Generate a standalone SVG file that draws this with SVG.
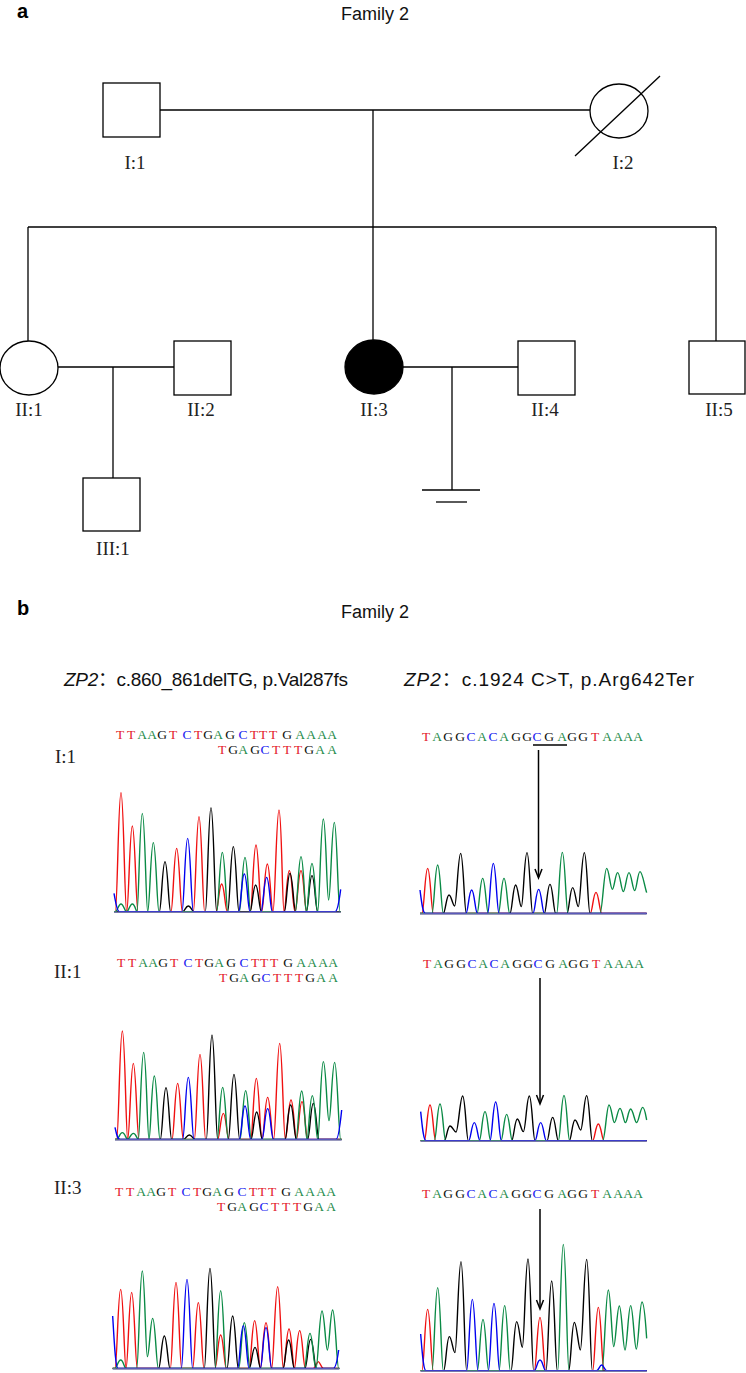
<svg xmlns="http://www.w3.org/2000/svg" xmlns:xlink="http://www.w3.org/1999/xlink" width="746" height="1373" viewBox="0 0 746 1373">
<style>
.ln{stroke:#000;stroke-width:1.3;fill:none}
.nd{fill:#fff;stroke:#000;stroke-width:1.3}
.aff{fill:#000;stroke:#000;stroke-width:1.3}
.lbl{font-family:"Liberation Serif",serif;font-size:19px;text-anchor:middle;fill:#222}
.rl{font-family:"Liberation Serif",serif;font-size:19px;fill:#222}
.hd{font-family:"Liberation Sans",sans-serif;font-size:18px;text-anchor:middle;fill:#111}
.pl{font-family:"Liberation Sans",sans-serif;font-size:20px;font-weight:bold;fill:#000}
.mu{font-family:"Liberation Sans","Noto Sans CJK SC",sans-serif;font-size:19px;fill:#111}
.sq{font-family:"Liberation Serif",serif;font-size:13.5px;text-anchor:middle}
.cR{fill:#e3202a}.cG{fill:#1f8c4c}.cK{fill:#111}.cB{fill:#2020f0}
.tr{fill:none;stroke-width:1.4;vector-effect:non-scaling-stroke;stroke-linejoin:round}
.r{stroke:#f01010}.g{stroke:#0a8a45}.k{stroke:#000}.b{stroke:#0000f0}
.bl{stroke:#7878a8;stroke-width:1.5;vector-effect:non-scaling-stroke}
.ar{stroke:#000;stroke-width:1.5;fill:none}
</style>
<defs>
<g id="seqL">
<text class="sq cR" x="120 131 173 198 254 263 273" y="0">TTTTTTT</text>
<text class="sq cG" x="142 152 218 300 311 322 332" y="0">AAAAAAA</text>
<text class="sq cK" x="162 208 230 287" y="0">GGGG</text>
<text class="sq cB" x="187 243" y="0">CC</text>
<text class="sq cR" x="222 276 287 298" y="15">TTTT</text>
<text class="sq cK" x="233 255 309" y="15">GGG</text>
<text class="sq cG" x="243 320 332" y="15">AAA</text>
<text class="sq cB" x="265" y="15">C</text>
</g>
<g id="seqR">
<text class="sq cR" x="426 595" y="0">TT</text>
<text class="sq cG" x="437 482 504 562 607 618 628 638" y="0">AAAAAAAA</text>
<text class="sq cK" x="448 460 516 527 549 572 583" y="0">GGGGGGG</text>
<text class="sq cB" x="471 493 537" y="0">CCC</text>
</g>
</defs>
<rect width="746" height="1373" fill="#fff"/>

<!-- Panel a -->
<text class="pl" x="17" y="18">a</text>
<text class="hd" x="375" y="20">Family 2</text>

<g id="connectors">
<line class="ln" x1="160" y1="110" x2="590" y2="110"/>
<line class="ln" x1="373" y1="110" x2="373" y2="227"/>
<line class="ln" x1="28" y1="227" x2="716" y2="227"/>
<line class="ln" x1="28" y1="227" x2="28" y2="341"/>
<line class="ln" x1="373" y1="227" x2="373" y2="340"/>
<line class="ln" x1="716" y1="227" x2="716" y2="341"/>
<line class="ln" x1="58" y1="367" x2="174" y2="367"/>
<line class="ln" x1="113" y1="367" x2="113" y2="478"/>
<line class="ln" x1="403" y1="367" x2="518" y2="367"/>
<line class="ln" x1="452" y1="367" x2="452" y2="490"/>
<line class="ln" x1="422" y1="490" x2="480" y2="490"/>
<line class="ln" x1="436" y1="502" x2="467" y2="502"/>
</g>

<g id="I1"><rect class="nd" x="103" y="83" width="57" height="54"/><text class="lbl" x="135" y="169">I:1</text></g>
<g id="I2"><ellipse class="nd" cx="619" cy="111" rx="29" ry="27"/><line class="ln" x1="575" y1="156" x2="660" y2="76"/><text class="lbl" x="623" y="169">I:2</text></g>
<g id="II1"><ellipse class="nd" cx="29" cy="368" rx="29" ry="27"/><text class="lbl" x="29" y="416">II:1</text></g>
<g id="II2"><rect class="nd" x="174" y="341" width="57" height="54"/><text class="lbl" x="201" y="416">II:2</text></g>
<g id="II3"><ellipse class="aff" cx="374" cy="367" rx="29" ry="27"/><text class="lbl" x="374" y="416">II:3</text></g>
<g id="II4"><rect class="nd" x="518" y="341" width="57" height="54"/><text class="lbl" x="545" y="416">II:4</text></g>
<g id="II5"><rect class="nd" x="689" y="341" width="56" height="53"/><text class="lbl" x="719" y="416">II:5</text></g>
<g id="III1"><rect class="nd" x="83" y="478" width="57" height="53"/><text class="lbl" x="113" y="555">III:1</text></g>

<!-- Panel b -->
<text class="pl" x="17" y="615">b</text>
<text class="hd" x="375" y="618">Family 2</text>
<text class="mu" x="64" y="686" textLength="284"><tspan font-style="italic">ZP2</tspan>：c.860_861delTG, p.Val287fs</text>
<text class="mu" x="404" y="686" textLength="290"><tspan font-style="italic">ZP2</tspan>：c.1924 C&gt;T, p.Arg642Ter</text>

<text class="rl" x="55" y="763">I:1</text>
<text class="rl" x="54" y="978">II:1</text>
<text class="rl" x="54" y="1194">II:3</text>

<use xlink:href="#seqL" x="0" y="739"/>
<use xlink:href="#seqL" x="1" y="967"/>
<use xlink:href="#seqL" x="-1" y="1196"/>
<use xlink:href="#seqR" x="0" y="741"/>
<use xlink:href="#seqR" x="1" y="968"/>
<use xlink:href="#seqR" x="0" y="1198"/>

<line class="ar" x1="533" y1="745" x2="567" y2="745"/>
<line class="ar" x1="538.5" y1="750" x2="538.5" y2="877"/>
<polyline class="ar" points="535,869 538.5,878 542,869"/>
<line class="ar" x1="540" y1="978" x2="540" y2="1103"/>
<polyline class="ar" points="536.5,1095 540,1104 543.5,1095"/>
<line class="ar" x1="540" y1="1209" x2="540" y2="1308"/>
<polyline class="ar" points="536.5,1300 540,1309 543.5,1300"/>

<!-- I:1 left -->
<g transform="translate(100,720) scale(0.33333)">
<path class="tr r" d="M42,575 L46,575 C52,575 55,218 63,218 C71,218 74,575 80,575 C86,575 89,318 97,318 C105,318 108,575 114,575 L213,575 C219,575 222,385 230,385 C238,385 241,575 247,575 L280,575 C286,575 289,290 297,290 C305,290 308,575 314,575 L348,575 C354,575 357,492 365,492 C373,492 376,575 382,575 L451,575 C457,575 460,375 468,375 C476,375 479,575 485,575 C491,575 494,432 502,432 C510,432 513,575 519,575 C525,575 529,270 537,270 C545,270 547,575 552,575 C558,575 560,452 568,452 C576,452 579,575 585,575 C591,575 595,452 603,452 C611,452 614,575 620,575 L722,575"/>
<path class="tr k" d="M42,575 L178,575 C184,575 187,425 195,425 C203,425 206,575 212,575 L248,575 C254,575 257,558 265,558 C273,558 276,575 282,575 L316,575 C322,575 325,263 333,263 C341,263 344,575 350,575 L383,575 C389,575 392,380 400,380 C408,380 411,575 417,575 L450,575 C456,575 459,495 467,495 C475,495 478,575 484,575 L553,575 C559,575 562,460 570,460 C578,460 581,575 587,575 L619,575 C625,575 628,467 636,467 C644,467 647,575 653,575 L722,575"/>
<path class="tr g" d="M42,575 L46,575 C52,575 55,552 63,552 C71,552 74,575 80,575 C86,575 89,552 97,552 C105,552 108,575 111,575 C116,575 119,280 127,280 C135,280 138,575 143,575 C149,575 152,368 160,368 C168,368 171,575 177,575 L350,575 C356,575 359,397 367,397 C375,397 378,575 384,575 L418,575 C424,575 427,412 435,412 C443,412 446,575 452,575 L586,575 C592,575 595,410 603,410 C611,410 614,575 619,575 C625,575 628,430 636,430 C644,430 647,575 653,575 C659,575 662,297 670,297 C678,297 680,540 686,540 C692,540 695,307 703,307 C711,307 714,575 720,575 L722,575"/>
<path class="tr b" d="M42,520 C46,540 50,575 58,575 L246,575 C252,575 255,355 263,355 C271,355 274,575 280,575 L416,575 C422,575 425,462 433,462 C441,462 444,575 450,575 L483,575 C489,575 492,472 500,472 C508,472 511,575 517,575 L705,575 C712,575 718,540 722,508"/>
<line class="bl" x1="42" y1="577" x2="722" y2="577"/>
</g>

<!-- I:1 right -->
<g transform="translate(400,720) scale(0.33333)">
<path class="tr r" d="M60,580 L66,580 C72,580 75,445 83,445 C91,445 94,580 100,580 L571,580 C577,580 580,517 588,517 C596,517 599,580 605,580 L740,580"/>
<path class="tr k" d="M60,580 L130,580 C136,580 139,525 147,525 C154,525 158,558 164,558 C170,558 174,400 182,400 C190,400 193,580 199,580 L330,580 C336,580 339,495 347,495 C354,495 358,560 364,560 C370,560 373,398 381,398 C389,398 392,580 398,580 L433,580 C439,580 442,493 450,493 C458,493 461,580 467,580 L501,580 C507,580 510,503 518,503 C525,503 529,560 535,560 C541,560 545,398 553,398 C561,398 564,580 570,580 L740,580"/>
<path class="tr g" d="M60,580 L96,580 C102,580 105,435 113,435 C121,435 124,580 130,580 L231,580 C237,580 240,475 248,475 C256,475 259,580 265,580 L295,580 C301,580 304,475 312,475 C320,475 323,580 329,580 L470,580 C476,580 479,397 487,397 C495,397 498,580 504,580 L600,580 C607,580 612,445 620,445 C627,445 631,508 637,508 C643,508 646,458 653,458 C660,458 664,515 670,515 C676,515 680,458 687,458 C694,458 698,512 704,512 C710,512 713,455 720,455 C727,455 733,495 740,518"/>
<path class="tr b" d="M60,510 C64,540 68,580 76,580 L198,580 C204,580 207,510 215,510 C223,510 226,580 232,580 L263,580 C269,580 272,430 280,430 C288,430 291,580 297,580 L399,580 C405,580 408,508 416,508 C424,508 427,580 433,580 L740,580"/>
<line class="bl" x1="60" y1="582" x2="740" y2="582"/>
</g>

<!-- II:1 left -->
<g transform="translate(100,930) scale(0.33333)">
<path class="tr r" d="M45,628 L50,628 C56,628 59,303 67,303 C75,303 78,628 83,628 C89,628 92,400 100,400 C108,400 111,628 117,628 L216,628 C222,628 225,460 233,460 C241,460 244,628 250,628 L283,628 C289,628 292,373 300,373 C308,373 311,628 317,628 L353,628 C359,628 362,550 370,550 C378,550 381,628 387,628 L452,628 C458,628 461,445 469,445 C477,445 480,628 486,628 C492,628 495,502 503,502 C511,502 514,628 521,628 C527,628 531,340 539,340 C547,340 550,628 556,628 C562,628 565,510 573,510 C581,510 584,628 589,628 C595,628 598,515 606,515 C614,515 617,628 623,628 L725,628"/>
<path class="tr k" d="M45,628 L181,628 C187,628 190,473 198,473 C206,473 209,628 215,628 L251,628 C257,628 260,615 268,615 C276,615 279,628 285,628 L319,628 C325,628 328,315 336,315 C344,315 347,628 353,628 L385,628 C391,628 394,433 402,433 C410,433 413,628 419,628 L453,628 C459,628 462,546 470,546 C478,546 481,628 487,628 L555,628 C561,628 564,525 572,525 C580,525 583,628 589,628 L623,628 C629,628 632,520 640,520 C648,520 651,628 657,628 L725,628"/>
<path class="tr g" d="M45,628 L50,628 C56,628 59,608 67,608 C75,608 78,628 83,628 C89,628 92,610 100,610 C108,610 111,628 115,628 C120,628 123,367 131,367 C139,367 142,628 147,628 C152,628 155,438 163,438 C171,438 174,628 180,628 L351,628 C357,628 360,472 368,472 C376,472 379,628 385,628 L420,628 C426,628 429,482 437,482 C445,482 448,628 454,628 L588,628 C594,628 597,483 605,483 C613,483 616,628 621,628 C626,628 629,497 637,497 C645,497 648,628 653,628 C659,628 662,395 670,395 C678,395 681,572 687,572 C693,572 696,397 704,397 C712,397 716,628 722,628 L725,628"/>
<path class="tr b" d="M45,592 C49,610 52,628 60,628 L248,628 C254,628 257,442 265,442 C273,442 276,628 282,628 L418,628 C424,628 427,528 435,528 C443,528 446,628 452,628 L486,628 C492,628 495,536 503,536 C511,536 514,628 520,628 L708,628 C715,628 720,590 725,540"/>
<line class="bl" x1="45" y1="630" x2="725" y2="630"/>
</g>

<!-- II:1 right -->
<g transform="translate(400,930) scale(0.33333)">
<path class="tr r" d="M62,632 L73,632 C79,632 82,525 90,525 C98,525 101,632 107,632 L578,632 C584,632 587,582 595,582 C603,582 606,632 612,632 L740,632"/>
<path class="tr k" d="M62,632 L133,632 C139,632 142,588 150,588 C157,588 162,606 168,606 C175,606 180,498 188,498 C196,498 199,632 205,632 L335,632 C341,632 344,567 352,567 C359,567 364,605 370,605 C377,605 380,498 388,498 C396,498 399,632 405,632 L441,632 C447,632 450,562 458,562 C466,562 469,632 475,632 L508,632 C514,632 517,570 525,570 C532,570 537,600 542,600 C549,600 552,497 560,497 C568,497 571,632 577,632 L740,632"/>
<path class="tr g" d="M62,632 L103,632 C109,632 112,522 120,522 C128,522 131,632 137,632 L238,632 C244,632 247,545 255,545 C263,545 266,632 272,632 L303,632 C309,632 312,553 320,553 C328,553 331,632 337,632 L475,632 C481,632 484,496 492,496 C500,496 503,632 509,632 L608,632 C615,632 620,525 627,525 C634,525 638,578 643,578 C649,578 653,535 660,535 C667,535 671,578 676,578 C682,578 685,537 692,537 C699,537 704,578 710,578 C716,578 721,532 728,532 C734,532 737,555 740,570"/>
<path class="tr b" d="M62,545 C66,580 70,632 78,632 L206,632 C212,632 215,578 223,578 C231,578 234,632 240,632 L270,632 C276,632 279,516 287,516 C295,516 298,632 304,632 L405,632 C411,632 414,578 422,578 C430,578 433,632 439,632 L740,632"/>
<line class="bl" x1="62" y1="634" x2="740" y2="634"/>
</g>

<!-- II:3 left -->
<g transform="translate(100,1150) scale(0.33333)">
<path class="tr r" d="M38,655 L45,655 C51,655 54,418 62,418 C70,418 73,655 78,655 C84,655 87,427 95,427 C103,427 106,655 112,655 L211,655 C217,655 220,397 228,397 C236,397 239,655 245,655 L278,655 C284,655 287,458 295,458 C303,458 306,655 312,655 L345,655 C351,655 354,555 362,555 C370,555 373,655 379,655 L447,655 C453,655 456,512 464,512 C472,512 475,655 481,655 C487,655 490,518 498,518 C506,518 509,655 515,655 C521,655 525,410 533,410 C541,410 544,655 550,655 C556,655 559,537 567,537 C575,537 578,655 583,655 C588,655 591,542 599,542 C607,542 610,655 616,655 L640,655 C646,655 650,635 655,635 C660,635 664,655 670,655 L718,655"/>
<path class="tr k" d="M38,655 L176,655 C182,655 185,558 193,558 C201,558 204,655 210,655 L313,655 C319,655 322,355 330,355 C338,355 341,655 347,655 L381,655 C387,655 390,498 398,498 C406,498 409,655 415,655 L448,655 C454,655 457,592 465,592 C473,592 476,655 482,655 L549,655 C555,655 558,570 566,570 C574,570 577,655 583,655 L615,655 C621,655 624,568 632,568 C640,568 643,655 649,655 L718,655"/>
<path class="tr g" d="M38,655 L45,655 C51,655 54,630 62,630 C70,630 73,655 78,655 L110,655 C116,655 119,363 127,363 C134,363 137,620 142,620 C148,620 151,505 158,505 C166,505 169,655 175,655 L345,655 C351,655 354,422 362,422 C370,422 373,655 379,655 L416,655 C422,655 425,518 433,518 C441,518 444,655 450,655 L613,655 C619,655 622,550 630,550 C638,550 641,655 648,655 C654,655 658,483 666,483 C673,483 677,600 682,600 C688,600 691,480 698,480 C706,480 710,655 716,655 L718,655"/>
<path class="tr b" d="M38,498 C42,560 46,655 54,655 L244,655 C250,655 253,388 261,388 C269,388 272,655 278,655 L413,655 C419,655 422,527 430,527 C438,527 441,655 447,655 L481,655 C487,655 490,533 498,533 C506,533 509,655 515,655 L700,655 C707,655 712,630 716,600"/>
<line class="bl" x1="38" y1="657" x2="718" y2="657"/>
</g>

<!-- II:3 right -->
<g transform="translate(400,1150) scale(0.33333)">
<path class="tr r" d="M62,662 L66,662 C72,662 75,478 83,478 C91,478 94,662 100,662 L403,662 C409,662 412,502 420,502 C428,502 431,662 437,662 L578,662 C584,662 587,472 595,472 C603,472 606,662 612,662 L740,662"/>
<path class="tr k" d="M62,662 L131,662 C137,662 140,560 148,560 C155,560 159,608 165,608 C171,608 175,335 183,335 C191,335 194,662 200,662 L333,662 C339,662 342,515 350,515 C357,515 362,592 367,592 C373,592 376,327 384,327 C392,327 395,662 401,662 L438,662 C444,662 447,393 455,393 C463,393 466,662 472,662 L506,662 C512,662 515,517 523,517 C530,517 536,600 541,600 C548,600 552,328 560,328 C568,328 571,662 577,662 L740,662"/>
<path class="tr g" d="M62,662 L96,662 C102,662 105,413 113,413 C121,413 124,662 130,662 L232,662 C238,662 241,508 249,508 C257,508 260,662 266,662 L297,662 C303,662 306,467 314,467 C322,467 325,662 331,662 L473,662 C479,662 482,283 490,283 C498,283 501,662 507,662 L606,662 C612,662 617,420 625,420 C632,420 636,590 641,590 C647,590 651,468 658,468 C665,468 669,600 675,600 C681,600 685,467 692,467 C699,467 703,597 709,597 C715,597 719,456 726,456 C733,456 737,520 740,565"/>
<path class="tr b" d="M62,552 C66,600 70,662 78,662 L200,662 C206,662 209,448 217,448 C225,448 228,662 234,662 L265,662 C271,662 274,460 282,460 C290,460 293,662 299,662 L403,662 C409,662 412,630 420,630 C428,630 431,662 437,662 L590,662 C596,662 599,645 605,645 C611,645 614,662 620,662 L740,662"/>
<line class="bl" x1="62" y1="664" x2="740" y2="664"/>
</g>
</svg>
